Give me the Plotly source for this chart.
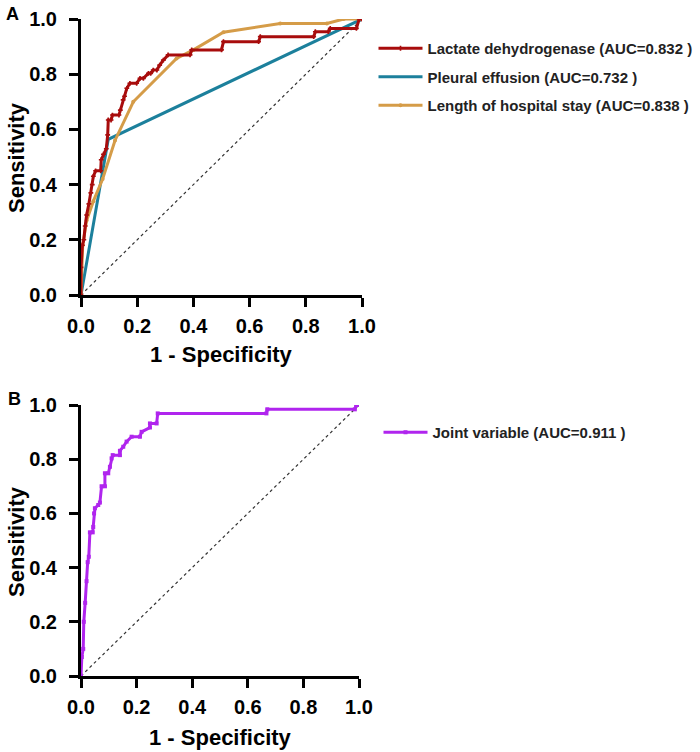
import plotly.graph_objects as go

# ---------------- data ----------------
ldh_fpr = [0.0, 0.0, 0.005, 0.01, 0.015, 0.02, 0.028, 0.035, 0.04, 0.044, 0.052, 0.07, 0.072, 0.08, 0.09, 0.095,
           0.097, 0.107, 0.112, 0.135, 0.14, 0.15, 0.155, 0.163, 0.174, 0.198, 0.21, 0.222, 0.24, 0.248, 0.257,
           0.27, 0.28, 0.293, 0.31, 0.388, 0.394, 0.5, 0.507, 0.632, 0.638, 0.828, 0.834, 0.88, 0.887, 0.98, 0.99, 1.0]
ldh_tpr = [0.0, 0.1, 0.18, 0.2, 0.25, 0.29, 0.33, 0.37, 0.4, 0.43, 0.45, 0.45, 0.49, 0.51, 0.53, 0.58,
           0.634, 0.634, 0.652, 0.652, 0.67, 0.707, 0.72, 0.749, 0.767, 0.767, 0.785, 0.785, 0.803, 0.803, 0.815,
           0.815, 0.833, 0.851, 0.87, 0.87, 0.888, 0.888, 0.918, 0.918, 0.936, 0.936, 0.954, 0.954, 0.966, 0.966, 1.0, 1.0]

pe_fpr = [0.0, 0.097, 1.0]
pe_tpr = [0.0, 0.564, 1.0]

los_fpr = [0.0, 0.006, 0.02, 0.044, 0.077, 0.121, 0.186, 0.34, 0.4, 0.507, 0.709, 0.875, 0.935, 1.0]
los_tpr = [0.0, 0.18, 0.27, 0.34, 0.42, 0.56, 0.70, 0.857, 0.888, 0.952, 0.984, 0.984, 1.0, 1.0]

joint_fpr = [0.0, 0.003, 0.008, 0.01, 0.015, 0.02, 0.024, 0.028, 0.032, 0.042, 0.044, 0.047, 0.05, 0.062,
             0.068, 0.074, 0.086, 0.086, 0.098, 0.104, 0.11, 0.114, 0.14, 0.14, 0.152, 0.164, 0.182, 0.212,
             0.218, 0.248, 0.248, 0.272, 0.276, 0.667, 0.67, 0.985, 0.99, 1.0]
joint_tpr = [0.0, 0.07, 0.1, 0.2, 0.27, 0.35, 0.42, 0.44, 0.53, 0.53, 0.55, 0.60, 0.619, 0.631,
             0.64, 0.70, 0.70, 0.748, 0.748, 0.772, 0.803, 0.815, 0.815, 0.831, 0.846, 0.865, 0.883, 0.883,
             0.901, 0.917, 0.932, 0.932, 0.969, 0.969, 0.984, 0.984, 1.0, 1.0]

ref_line = [0.0, 1.0]

names_a = ["Lactate dehydrogenase (AUC=0.832 )", "Pleural effusion (AUC=0.732 )",
           "Length of hospital stay (AUC=0.838 )"]
name_b = "Joint variable (AUC=0.911 )"
tick_vals = [0.0, 0.2, 0.4, 0.6, 0.8, 1.0]
tick_text = ["0.0", "0.2", "0.4", "0.6", "0.8", "1.0"]

# ---------------- style ----------------
RED = "#a80c0c"
TEAL = "#1c809c"
GOLD = "#d59c48"
PURPLE = "#b025ee"
W, H = 700, 752
FONT = "Liberation Sans, Arial, sans-serif"

fig = go.Figure()

fig.add_trace(go.Scatter(x=ref_line, y=ref_line, mode="lines", showlegend=False,
                         line=dict(color="#333333", width=1.2, dash="3px,3px"), xaxis="x", yaxis="y"))
fig.add_trace(go.Scatter(x=pe_fpr, y=pe_tpr, mode="lines", name=names_a[1], legend="legend",
                         legendgroup="b", legendrank=2,
                         line=dict(color=TEAL, width=3), xaxis="x", yaxis="y"))
fig.add_trace(go.Scatter(x=los_fpr, y=los_tpr, mode="lines+markers", name=names_a[2], legend="legend",
                         legendgroup="c", legendrank=3,
                         line=dict(color=GOLD, width=3), marker=dict(size=4, color=GOLD),
                         xaxis="x", yaxis="y"))
fig.add_trace(go.Scatter(x=ldh_fpr, y=ldh_tpr, mode="lines+markers", name=names_a[0], legend="legend",
                         legendgroup="a", legendrank=1,
                         line=dict(color=RED, width=3), marker=dict(size=4, color=RED, symbol="cross"),
                         xaxis="x", yaxis="y"))

fig.add_trace(go.Scatter(x=ref_line, y=ref_line, mode="lines", showlegend=False,
                         line=dict(color="#333333", width=1.2, dash="3px,3px"), xaxis="x2", yaxis="y2"))
fig.add_trace(go.Scatter(x=joint_fpr, y=joint_tpr, mode="lines+markers", name=name_b, legend="legend2",
                         line=dict(color=PURPLE, width=3), marker=dict(size=4, color=PURPLE, symbol="square"),
                         xaxis="x2", yaxis="y2"))

def px_x(v):
    return v / W

def px_y(v):
    return 1 - v / H

axis_common = dict(range=[0, 1], tickvals=tick_vals, ticktext=tick_text, showgrid=False, zeroline=False,
                   showline=True, linecolor="black", linewidth=3, ticks="outside", ticklen=9, tickwidth=3,
                   tickcolor="black", automargin=False,
                   tickfont=dict(family=FONT, size=20, color="black", weight="bold"))

fig.update_layout(
    width=W, height=H, margin=dict(l=0, r=0, t=0, b=0, autoexpand=False),
    plot_bgcolor="white", paper_bgcolor="white",
    xaxis=dict(domain=[px_x(81), px_x(362)], anchor="y", ticklabelstandoff=2, **axis_common),
    yaxis=dict(domain=[px_y(295), px_y(19)], anchor="x", ticklabelstandoff=8, **axis_common),
    xaxis2=dict(domain=[px_x(81), px_x(359)], anchor="y2", ticklabelstandoff=2, **axis_common),
    yaxis2=dict(domain=[px_y(676), px_y(405)], anchor="x2", ticklabelstandoff=8, **axis_common),
    legend=dict(x=px_x(373.5), y=px_y(32), xanchor="left", yanchor="top", traceorder="grouped",
                tracegroupgap=6, itemwidth=44, bgcolor="rgba(0,0,0,0)",
                font=dict(family=FONT, size=15, color="#222222", weight="bold")),
    legend2=dict(x=px_x(378.5), y=px_y(416), xanchor="left", yanchor="top", itemwidth=44,
                 bgcolor="rgba(0,0,0,0)",
                 font=dict(family=FONT, size=15, color="#222222", weight="bold")),
    showlegend=True,
)

def title_ann(text, x, y, angle=0, size=22):
    fig.add_annotation(text=text, x=px_x(x), y=px_y(y), xref="paper", yref="paper", showarrow=False,
                       textangle=angle, xanchor="center", yanchor="middle",
                       font=dict(family=FONT, size=size, color="black", weight="bold"))

title_ann("1 - Specificity", 221, 355)
title_ann("Sensitivity", 16, 158, angle=-90)
title_ann("1 - Specificity", 220, 737)
title_ann("Sensitivity", 16, 542, angle=-90)
title_ann("A", 12, 14, size=18)
title_ann("B", 14, 399, size=18)

fig.write_html("out.html")
